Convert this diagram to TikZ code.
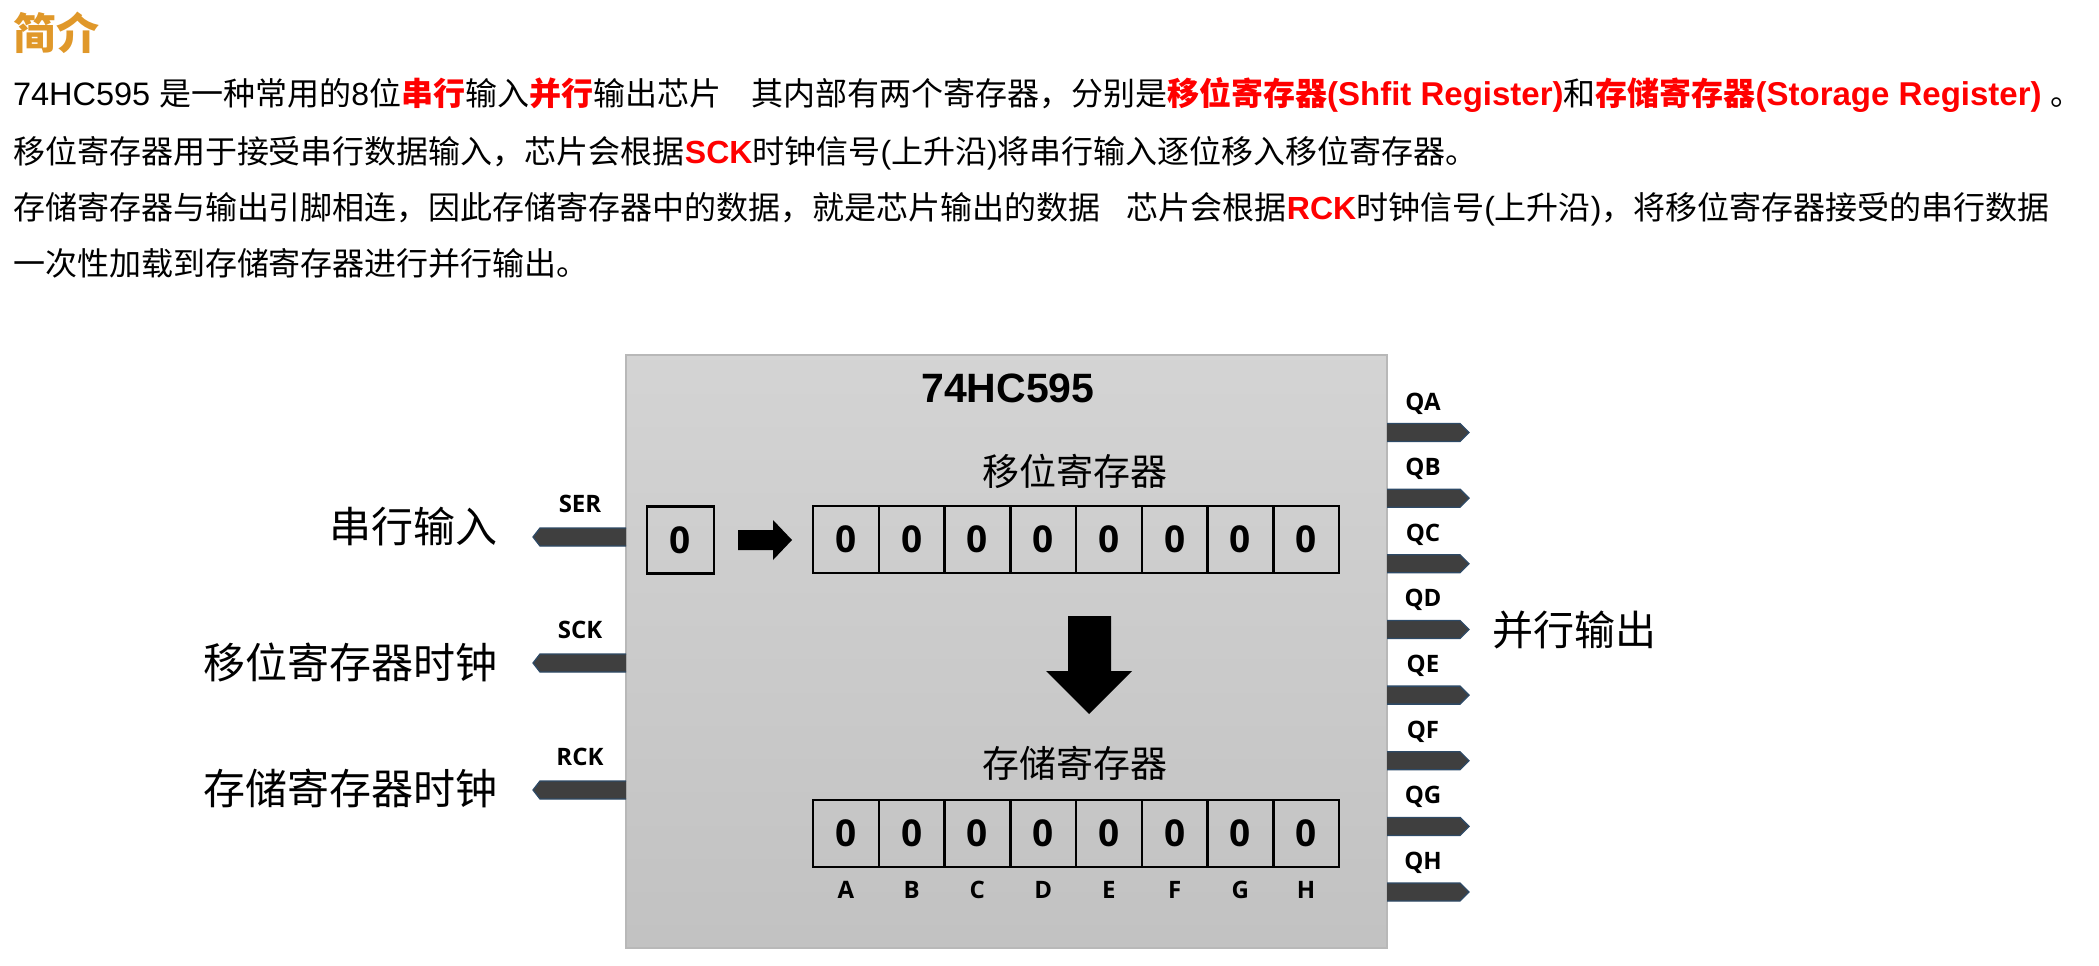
\documentclass[tikz,border=0pt]{standalone}
\usepackage{fontspec}
\setmainfont{Noto Sans CJK SC}
\newfontfamily\arial{Liberation Sans}
\newfontfamily\osans{Open Sans}
\definecolor{titleorange}{HTML}{E0982A}
\definecolor{pinfill}{HTML}{3F3F3F}
\definecolor{pinedge}{HTML}{2E4A66}
\definecolor{chipborder}{HTML}{B8B8B8}
\definecolor{hired}{HTML}{FF0000}
\newcommand\redb[1]{{\color{hired}\bfseries #1}}
\begin{document}
\begin{tikzpicture}[x=1pt,y=-1pt,
  every node/.style={inner sep=0pt,outer sep=0pt},
  bodyline/.style={anchor=base west,font=\fontsize{32}{32}\selectfont},
  sidelabel/.style={anchor=east,font=\fontsize{42}{42}\selectfont},
  reglabel/.style={font=\fontsize{37}{37}\selectfont},
  chipbox/.style={draw=chipborder,line width=2pt,top color=black!17,bottom color=black!24,minimum width=761pt,minimum height=593pt},
  cell/.style={draw=black,line width=2.5pt,minimum width=65.75pt,minimum height=67pt,font=\osans\bfseries\fontsize{37}{37}\selectfont},
  pinlabel/.style={anchor=base,font=\osans\bfseries\fontsize{24}{24}\selectfont},
  pinshape/.style={fill=pinfill,draw=pinedge,line width=1.3pt,line join=miter},
  bigarrow/.style={fill=black,draw=none}]
\useasboundingbox (0,0) rectangle (2099,966);

% ---------- header text ----------
\node[anchor=base west,text=titleorange,font=\fontsize{43}{43}\selectfont\bfseries] (title) at (13,50) {简介};
\node[bodyline] (l1) at (13,106) {{\arial\fontsize{32.5}{32}\selectfont 74HC595 }是一种常用的{\arial 8}位\redb{串行}输入\redb{并行}输出芯片\hspace{30pt}其内部有两个寄存器，分别是\redb{移位寄存器{\arial\fontsize{33}{32}\selectfont(Shfit Register)}}和\redb{存储寄存器{\arial\fontsize{33}{32}\selectfont(Storage Register)}}{\arial\ }。};
\node[bodyline] (l2) at (13,163) {移位寄存器用于接受串行数据输入，芯片会根据\redb{\arial SCK}时钟信号{\arial(}上升沿{\arial)}将串行输入逐位移入移位寄存器。};
\node[bodyline] (l3) at (13,219) {存储寄存器与输出引脚相连，因此存储寄存器中的数据，就是芯片输出的数据\hspace{26pt}芯片会根据\redb{\arial RCK}时钟信号{\arial(}上升沿{\arial)}，将移位寄存器接受的串行数据};
\node[bodyline] (l4) at (13,275) {一次性加载到存储寄存器进行并行输出。};

% ---------- chip ----------
\node[chipbox] (chip) at (1006.5,651.5) {};
\node[font=\arial\bfseries\fontsize{41}{41}\selectfont] (name) at (1008,388) {74HC595};
\node[reglabel] (shiftlbl) at (1075,471) {移位寄存器};
\node[reglabel] (storelbl) at (1075,763) {存储寄存器};

% serial input cell
\node[cell,minimum width=67pt] (ser) at (680.5,540) {0};
% shift register and storage register
\foreach \i in {1,...,8}{
  \node[cell] (s\i) at ({813+65.75*(\i-0.5)},539.5) {0};
  \node[cell] (r\i) at ({813+65.75*(\i-0.5)},833.5) {0};
}
\foreach \i/\l in {1/A,2/B,3/C,4/D,5/E,6/F,7/G,8/H}{
  \node[pinlabel] (lab\i) at ({813+65.75*(\i-0.5)},898) {\l};
}

% arrows inside chip
\fill[bigarrow] (738,530) -- (773,530) -- (773,520) -- (792,540) -- (773,560) -- (773,550) -- (738,550) -- cycle;
\fill[bigarrow] (1068,616) -- (1111,616) -- (1111,671) -- (1132,671) -- (1089,714) -- (1046,671) -- (1068,671) -- cycle;

% ---------- left pins ----------
\foreach \c/\t/\n in {537/SER/ser,663/SCK/sck,790/RCK/rck}{
  \draw[pinshape] (626,\c-9) -- (540,\c-9) -- (533,\c) -- (540,\c+9) -- (626,\c+9);
  \node[pinlabel] (p\n) at (580,\c-25) {\t};
}
\node[sidelabel] (in1) at (497,527) {串行输入};
\node[sidelabel] (in2) at (497,662) {移位寄存器时钟};
\node[sidelabel] (in3) at (497,788) {存储寄存器时钟};

% ---------- right pins ----------
\foreach \i/\t in {0/QA,1/QB,2/QC,3/QD,4/QE,5/QF,6/QG,7/QH}{
  \pgfmathsetmacro\c{432.5+65.65*\i}
  \draw[pinshape] (1387,\c-9) -- (1460,\c-9) -- (1469,\c) -- (1460,\c+9) -- (1387,\c+9);
  \node[pinlabel] (q\i) at (1423,\c-22.5) {\t};
}
\node[anchor=west,font=\fontsize{41}{41}\selectfont] (out) at (1492,630) {并行输出};
\end{tikzpicture}
\end{document}
